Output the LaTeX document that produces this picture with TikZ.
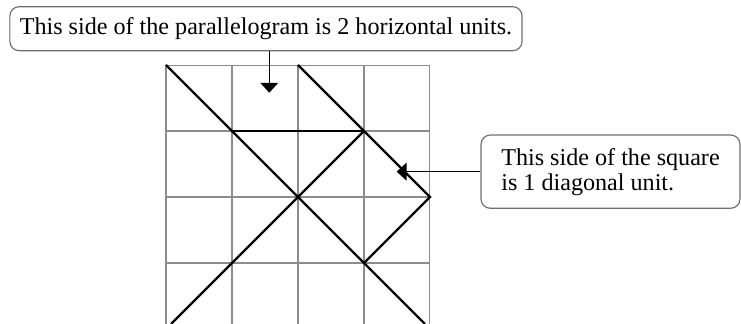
\documentclass[tikz,border=0pt]{standalone}
\usepackage{fontspec}
\setmainfont{Liberation Serif}
\usetikzlibrary{arrows.meta,positioning}
\definecolor{GLine}{HTML}{8C8C8C}
\definecolor{BLine}{HTML}{6E6E6E}

\begin{document}
\begin{tikzpicture}[
  x=1cm,y=1cm,
  every node/.style={font=\fontsize{10.4}{10.8}\selectfont},
  gridline/.style={draw=GLine,line width=0.45pt},
  figline/.style={draw=black,line width=0.95pt},
  callout/.style={draw=BLine,rounded corners=4pt,line width=0.5pt,
    inner sep=2pt,align=left},
  arr/.style={-{Triangle[width=2.7mm,length=1.5mm]},line width=0.5pt,color=black}
]
  \useasboundingbox (-2.515,0.985) rectangle (8.712,-3.924);
  \draw[gridline] (0,-3.924) grid (4,0);

  \draw[figline] (0,0) -- (3.924,-3.924);
  \draw[figline] (2,0) -- (4,-2) -- (3,-3);
  \draw[figline] (3,-1) -- (0.076,-3.924);
  \draw[figline] (1,-1) -- (3,-1);

  \node[callout,minimum width=7.76cm,minimum height=0.667cm] (hnote) at (1.515,0.55)
    {This side of the parallelogram is 2 horizontal units.};
  \node[callout,minimum width=3.924cm,minimum height=1.11cm] (dnote) at (6.735,-1.616)
    {This side of the square\\is 1 diagonal unit.};

  \coordinate (hside) at (1.565,-0.42);
  \coordinate (dside) at (3.495,-1.616);
  \draw[arr] (hside |- hnote.south) -- (hside);
  \draw[arr] (dnote.west) -- (dside);
\end{tikzpicture}
\end{document}
